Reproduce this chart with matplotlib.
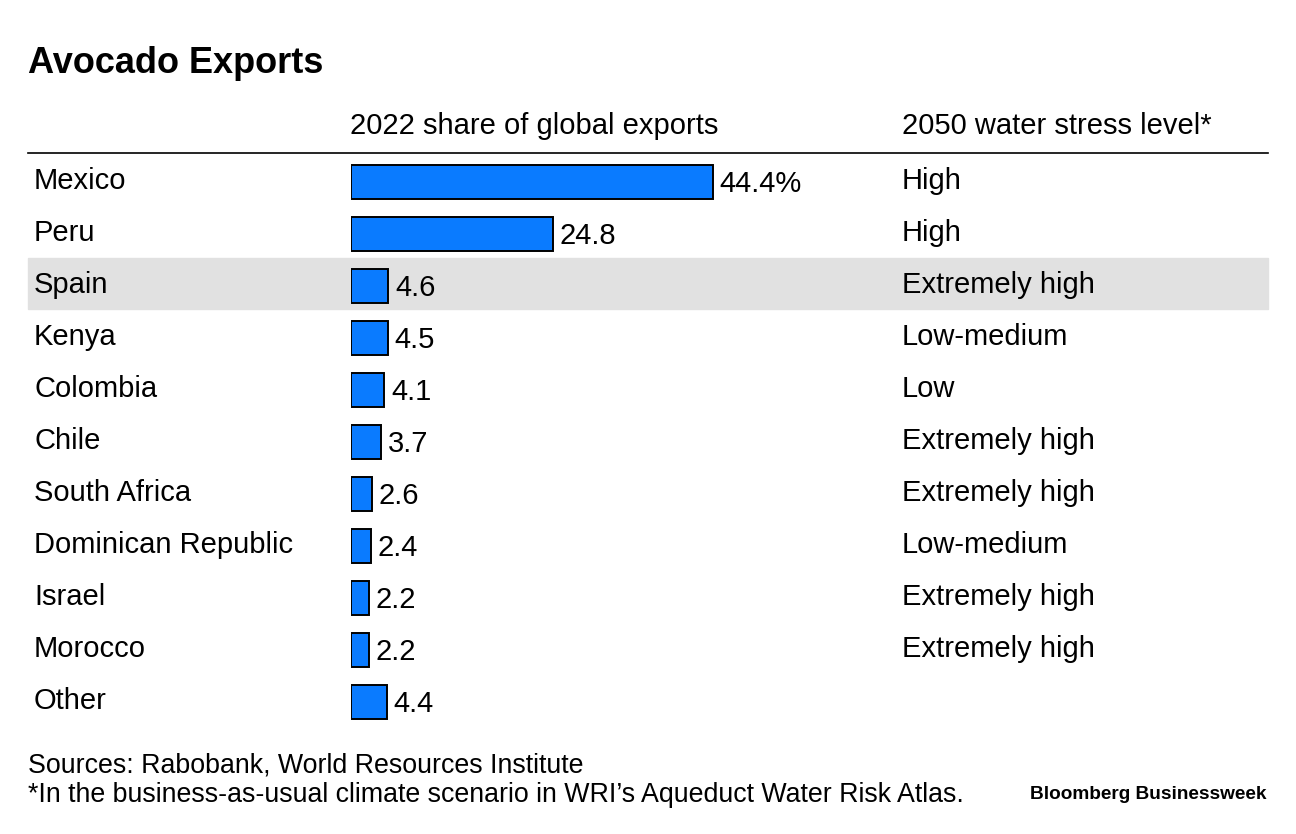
import matplotlib
matplotlib.use("Agg")
import matplotlib.pyplot as plt
import matplotlib.transforms as mtransforms

plt.rcParams['font.family'] = ['Liberation Sans', 'DejaVu Sans']

countries = ["Mexico", "Peru", "Spain", "Kenya", "Colombia", "Chile", "South Africa",
             "Dominican Republic", "Israel", "Morocco", "Other"]
shares = [44.4, 24.8, 4.6, 4.5, 4.1, 3.7, 2.6, 2.4, 2.2, 2.2, 4.4]
share_labels = ["44.4%", "24.8", "4.6", "4.5", "4.1", "3.7", "2.6", "2.4", "2.2", "2.2", "4.4"]
stress = ["High", "High", "Extremely high", "Low-medium", "Low", "Extremely high",
          "Extremely high", "Low-medium", "Extremely high", "Extremely high", ""]
highlight = "Spain"

W, H = 1296, 834
fig = plt.figure(figsize=(W / 100, H / 100), dpi=100)

# bar axes: from x=351px to 1268px, rows from y=156 to 728px
left, right = 351 / W, 1268 / W
top, bottom = 1 - 156 / H, 1 - 728 / H
ax = fig.add_axes([left, bottom, right - left, top - bottom])
ax.set_xlim(0, (1268 - 351) / 8.15)
n = len(countries)
ax.set_ylim(n - 0.5, -0.5)
ax.axis('off')
ax.set_zorder(2)

ys = list(range(n))
ax.barh(ys, shares, height=0.65, color='#0a7bff', edgecolor='black', linewidth=1.4, zorder=3)

blend = mtransforms.blended_transform_factory(fig.transFigure, ax.transData)
fs = 21
row_px = 52
name_off = 7 / row_px
val_off = 10 / row_px

for y, c, s, lab, st in zip(ys, countries, shares, share_labels, stress):
    if c == highlight:
        band = plt.Rectangle((28 / W, y - 0.54), (1268 - 28) / W, 0.98,
                             transform=blend, color='#e1e1e1', zorder=-1)
        fig.add_artist(band)
    fig.text(34 / W, y + name_off, c, transform=blend, fontsize=fs, va='baseline', ha='left')
    ax.text(s + 0.8, y + val_off, lab, fontsize=fs, va='baseline', ha='left')
    fig.text(902 / W, y + name_off, st, transform=blend, fontsize=fs, va='baseline', ha='left')

# headers
fig.text(350 / W, 1 - 134 / H, "2022 share of global exports", fontsize=fs, va='baseline', ha='left')
fig.text(902 / W, 1 - 134 / H, "2050 water stress level*", fontsize=fs, va='baseline', ha='left')
fig.add_artist(plt.Line2D([28 / W, 1268 / W], [1 - 153 / H, 1 - 153 / H], color='black', linewidth=1.2))

# title
fig.text(28 / W, 1 - 73 / H, "Avocado Exports", fontsize=26, fontweight='bold', va='baseline', ha='left')

# footer
fig.text(28 / W, 1 - 773 / H, "Sources: Rabobank, World Resources Institute", fontsize=19.3, va='baseline', ha='left')
fig.text(28 / W, 1 - 802 / H, "*In the business-as-usual climate scenario in WRI\u2019s Aqueduct Water Risk Atlas.",
         fontsize=19.3, va='baseline', ha='left')
fig.text(1267 / W, 1 - 799 / H, "Bloomberg Businessweek", fontsize=13.7, fontweight='bold', va='baseline', ha='right')

fig.savefig("out.png", dpi=100, facecolor='white')
